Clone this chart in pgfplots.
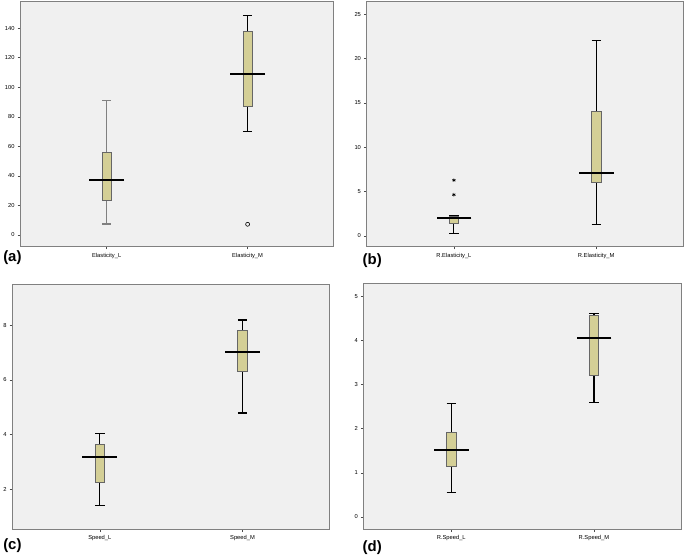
\documentclass[border=0pt]{standalone}
\usepackage{fontspec}
\setmainfont{Liberation Sans}
\usepackage{pgfplots}
\pgfplotsset{compat=1.18}
\usepgfplotslibrary{statistics}
\definecolor{boxfill}{HTML}{D4CF96}
\definecolor{bgc}{HTML}{F0F0F0}
\definecolor{framec}{HTML}{808080}
\pgfplotsset{spss/.style={
  scale only axis,
  axis background/.style={fill=bgc},
  axis line style={framec, line width=0.9pt},
  xmin=0.385, xmax=2.61, xtick={1,2},
  tick align=outside, xtick pos=bottom, ytick pos=left,
  major tick length=2.5pt,
  tick style={black!70, line width=0.5pt},
  tick label style={font=\fontsize{5.8}{6}\selectfont},
  /pgf/number format/assume math mode=true,
  yticklabel style={xshift=0.5pt},
  boxplot/draw direction=y,
  boxplot/box extend=0.066,
  boxplot/whisker extend=0.066,
  boxplot/every box/.style={draw=black!60, fill=boxfill, line width=0.8pt},
  boxplot/every whisker/.style={draw=black, line width=1.1pt},
  boxplot/every median/.style={draw=none},
}}
\tikzset{med/.style={only marks, mark=-, mark size=17.5pt, mark options={line width=1.8pt, draw=black}}}
\begin{document}
\begin{tikzpicture}
\path (0,0) rectangle (685pt,556pt);
% (a)
\begin{axis}[spss, at={(17pt,308pt)}, anchor=south west, width=315pt, height=247pt,
  ymin=-8.1, ymax=158.4, ytick={0,20,...,140},
  xticklabels={Elasticity\_L, Elasticity\_M}]
\addplot[boxplot prepared={draw position=1, lower whisker=7.4, lower quartile=23.4, median=37.3, upper quartile=55.7, upper whisker=90.8}, boxplot/every whisker/.style={draw=black!50, line width=1.1pt}] coordinates {};
\addplot[boxplot prepared={draw position=2, lower whisker=69.9, lower quartile=87, median=109.2, upper quartile=138, upper whisker=148.5}] coordinates {};
\addplot[med] coordinates {(1,37.3) (2,109.2)};
\addplot[only marks, mark=o, mark size=2pt, mark options={draw=black, line width=0.6pt}] coordinates {(2,7.2)};
\end{axis}
% (b)
\begin{axis}[spss, at={(365pt,308pt)}, anchor=south west, width=318pt, height=247pt,
  ymin=-1.23, ymax=26.5, ytick={0,5,...,25},
  xticklabels={R.Elasticity\_L, R.Elasticity\_M}]
\addplot[boxplot prepared={draw position=1, lower whisker=0.33, lower quartile=1.45, median=2.0, upper quartile=2.23, upper whisker=2.25}] coordinates {};
\addplot[boxplot prepared={draw position=2, lower whisker=1.3, lower quartile=6.03, median=7.1, upper quartile=14.0, upper whisker=22.0}] coordinates {};
\addplot[med] coordinates {(1,2.0) (2,7.1)};
\addplot[only marks, mark=asterisk, mark size=1.8pt, mark options={draw=black, line width=0.6pt}] coordinates {(1,6.29) (1,4.65)};
\end{axis}
% (c)
\begin{axis}[spss, at={(9pt,24pt)}, anchor=south west, width=319pt, height=246pt,
  ymin=0.53, ymax=9.48, ytick={2,4,6,8},
  xticklabels={Speed\_L, Speed\_M}]
\addplot[boxplot prepared={draw position=1, lower whisker=1.40, lower quartile=2.24, median=3.19, upper quartile=3.64, upper whisker=4.05}] coordinates {};
\addplot[boxplot prepared={draw position=2, lower whisker=4.79, lower quartile=6.31, median=7.01, upper quartile=7.81, upper whisker=8.19}] coordinates {};
\addplot[med] coordinates {(1,3.19) (2,7.01)};
\end{axis}
% (d)
\begin{axis}[spss, at={(362pt,24pt)}, anchor=south west, width=319pt, height=247pt,
  ymin=-0.29, ymax=5.29, ytick={0,1,...,5},
  xticklabels={R.Speed\_L, R.Speed\_M}]
\addplot[boxplot prepared={draw position=1, lower whisker=0.56, lower quartile=1.15, median=1.51, upper quartile=1.91, upper whisker=2.57}] coordinates {};
\addplot[boxplot prepared={draw position=2, lower whisker=2.60, lower quartile=3.22, median=4.06, upper quartile=4.56, upper whisker=4.62}] coordinates {};
\addplot[med] coordinates {(1,1.51) (2,4.06)};
\end{axis}
\node[font=\fontsize{15}{15}\selectfont\bfseries, anchor=west, inner sep=0pt] at (0pt,297pt) {(a)};
\node[font=\fontsize{15}{15}\selectfont\bfseries, anchor=west, inner sep=0pt] at (361pt,294pt) {(b)};
\node[font=\fontsize{15}{15}\selectfont\bfseries, anchor=west, inner sep=0pt] at (0pt,8pt) {(c)};
\node[font=\fontsize{15}{15}\selectfont\bfseries, anchor=west, inner sep=0pt] at (361pt,6pt) {(d)};
\end{tikzpicture}
\end{document}
